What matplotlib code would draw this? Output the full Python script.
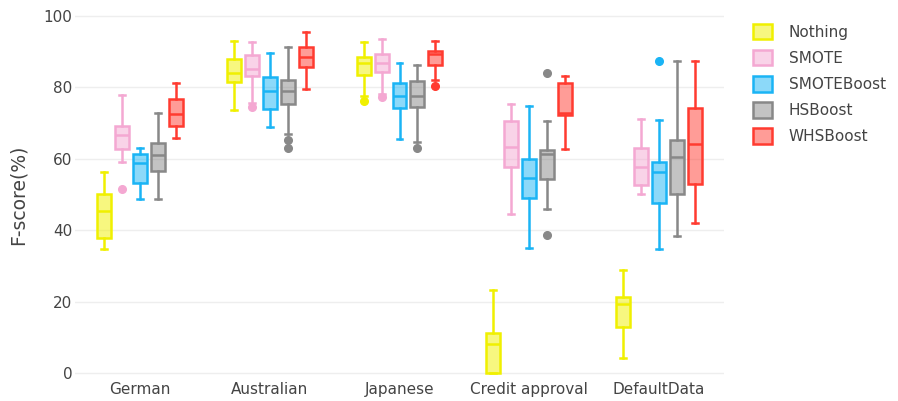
import matplotlib
matplotlib.use("Agg")
import matplotlib.pyplot as plt
from matplotlib.patches import Patch
from matplotlib.colors import to_rgba

categories = ["German", "Australian", "Japanese", "Credit approval", "DefaultData"]
methods = ["Nothing", "SMOTE", "SMOTEBoost", "HSBoost", "WHSBoost"]
edge_colors = ["#f0f000", "#f4a8d2", "#1ab4f5", "#888888", "#ff3b30"]

# per method: lists over categories of [whislo, q1, med, q3, whishi]
nothing = [
    [34.6, 37.7, 45.4, 50.2, 56.2],
    [73.6, 81.5, 84.1, 88.0, 92.9],
    [77.6, 83.5, 86.7, 88.6, 92.7],
    [0.0, 0.0, 8.2, 11.1, 23.2],
    [4.1, 12.8, 19.3, 21.4, 28.9],
]
smote = [
    [59.2, 62.7, 66.6, 69.1, 77.9],
    [75.6, 83.2, 85.2, 89.2, 92.7],
    [78.2, 84.4, 86.9, 89.4, 93.6],
    [44.5, 57.8, 63.4, 70.7, 75.3],
    [50.1, 52.7, 57.8, 63.1, 71.1],
]
smoteboost = [
    [48.8, 53.3, 58.9, 61.3, 62.9],
    [68.8, 74.0, 79.0, 82.8, 89.5],
    [65.5, 74.3, 77.6, 81.1, 86.9],
    [35.1, 49.0, 54.7, 60.0, 74.8],
    [34.8, 47.5, 56.2, 59.2, 70.8],
]
hsboost = [
    [48.7, 56.6, 61.1, 64.3, 72.9],
    [67.0, 75.3, 79.1, 82.1, 91.4],
    [64.6, 74.4, 77.6, 81.9, 86.4],
    [45.8, 54.4, 61.3, 62.5, 70.6],
    [38.5, 50.1, 60.6, 65.3, 87.5],
]
whsboost = [
    [65.7, 69.2, 72.5, 76.7, 81.1],
    [79.6, 85.8, 88.6, 91.2, 95.5],
    [82.2, 86.3, 89.4, 90.2, 93.1],
    [62.8, 72.3, 72.9, 81.1, 83.3],
    [42.1, 52.9, 64.1, 74.1, 87.5],
]
nothing_out = [[], [], [76.2], [], []]
smote_out = [[51.6], [74.6], [77.4], [], []]
smoteboost_out = [[], [], [], [], [87.5]]
hsboost_out = [[], [65.3, 63.1], [63.0], [84.1, 38.7], []]
whsboost_out = [[], [], [80.5], [], []]

series = [nothing, smote, smoteboost, hsboost, whsboost]
outliers = [nothing_out, smote_out, smoteboost_out, hsboost_out, whsboost_out]
yticks = [0, 20, 40, 60, 80, 100]

fig = plt.figure(figsize=(8.98, 4.01), dpi=100)
ax = fig.add_axes([75/898, 1 - 380/401, (724-75)/898, (380-8)/401])

slot = 18/130
bw = 14/130
for k, (stats_list, outs, col) in enumerate(zip(series, outliers, edge_colors)):
    stats = []
    for s, o in zip(stats_list, outs):
        stats.append(dict(whislo=s[0], q1=s[1], med=s[2], q3=s[3], whishi=s[4], fliers=o))
    pos = [i + (k - 2) * slot for i in range(len(categories))]
    ax.bxp(stats, positions=pos, widths=bw, patch_artist=True,
           capwidths=6/130, manage_ticks=False,
           boxprops=dict(facecolor=to_rgba(col, 0.5), edgecolor=col, linewidth=1.8),
           medianprops=dict(color=col, linewidth=1.8),
           whiskerprops=dict(color=col, linewidth=1.8),
           capprops=dict(color=col, linewidth=1.8),
           flierprops=dict(marker='o', markerfacecolor=col, markeredgecolor=col,
                           markersize=5.5, linestyle='none'))

ax.set_xlim(-0.5, len(categories) - 0.5)
ax.set_ylim(-(380-373)/3.57, 100 + (16-8)/3.57)
ax.set_yticks(yticks)
ax.set_xticks(range(len(categories)))
ax.set_xticklabels(categories)
for sp in ax.spines.values():
    sp.set_visible(False)
ax.grid(axis='y', color='#eeeeee', linewidth=1)
ax.set_axisbelow(True)
ax.tick_params(axis='both', length=0, labelsize=11, labelcolor='#444444')
ax.tick_params(axis='x', pad=1.5)
ax.tick_params(axis='y', pad=2)
fig.text(18.5/898, 1 - 195/401, "F-score(%)", rotation=90, ha='center', va='center',
         fontsize=13.5, color='#444444')

handles = [Patch(facecolor=to_rgba(c, 0.5), edgecolor=c, linewidth=1.8) for c in edge_colors]
fig.legend(handles, methods, loc='upper left', bbox_to_anchor=(739/898, 1 - 10/401),
           frameon=False, fontsize=11, labelcolor='#444444', handlelength=1.25,
           handleheight=1.2, labelspacing=0.66, handletextpad=1.1)

fig.savefig("out.png", dpi=100)
